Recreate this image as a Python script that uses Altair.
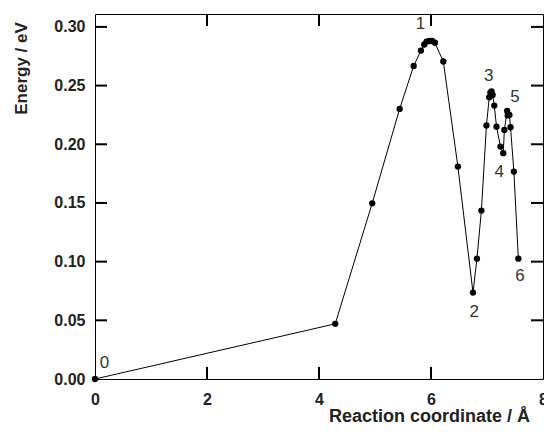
import altair as alt
import pandas as pd

# Reaction path data
coord = [0.0, 4.29, 4.95, 5.44, 5.69, 5.82, 5.88, 5.92, 5.97, 6.02, 6.07,
         6.22, 6.48, 6.75, 6.82, 6.90, 6.99, 7.04, 7.06, 7.08, 7.10, 7.13,
         7.17, 7.24, 7.29, 7.31, 7.36, 7.37, 7.40, 7.42, 7.48, 7.56]
energy = [0.0, 0.047, 0.1497, 0.2301, 0.2667, 0.2798, 0.285, 0.2875, 0.288,
          0.288, 0.2865, 0.2705, 0.181, 0.0736, 0.1025, 0.1435, 0.216, 0.240,
          0.244, 0.245, 0.242, 0.233, 0.215, 0.198, 0.1924, 0.2122, 0.2284,
          0.2246, 0.225, 0.2145, 0.1767, 0.1025]

# State labels
label_text = ["0", "1", "2", "3", "4", "5", "6"]
label_x = [0.17, 5.81, 6.77, 7.03, 7.22, 7.50, 7.59]
label_y = [0.0136, 0.3026, 0.0574, 0.258, 0.176, 0.2406, 0.0878]

x_ticks = [0, 2, 4, 6, 8]
y_ticks = [0.0, 0.05, 0.10, 0.15, 0.20, 0.25, 0.30]
x_inner_ticks = [2, 4, 6]
y_inner_ticks = [0.05, 0.10, 0.15, 0.20, 0.25, 0.30]

W, H = 448, 365
TL = 12
FONT = "Liberation Sans"

df = pd.DataFrame({"x": coord, "y": energy, "i": list(range(len(coord)))})
lab = pd.DataFrame({"t": label_text, "x": label_x, "y": label_y})
xt = pd.DataFrame({"x": x_inner_ticks})
yt = pd.DataFrame({"y": y_inner_ticks})

xscale = alt.Scale(domain=[0, 8], nice=False, zero=False)
yscale = alt.Scale(domain=[0, 0.311], nice=False, zero=False)

xaxis = alt.Axis(values=x_ticks, format="d", ticks=False, tickSize=0, grid=False,
                 domain=False, labelFont=FONT, labelFontSize=16, labelFontWeight="bold",
                 labelColor="#222", labelPadding=12, labelFlush=False,
                 title="Reaction coordinate / Å", titleFont=FONT, titleFontSize=18,
                 titleFontWeight="bold", titleColor="#222", titleX=334, titleY=37,
                 titleBaseline="middle", titleAlign="center")
yaxis = alt.Axis(values=y_ticks, format=".2f", ticks=False, tickSize=0, grid=False,
                 domain=False, labelFont=FONT, labelFontSize=16, labelFontWeight="bold",
                 labelColor="#222", labelPadding=10, labelFlush=False,
                 title="Energy / eV", titleFont=FONT, titleFontSize=17,
                 titleFontWeight="bold", titleColor="#222", titleX=-74, titleY=54,
                 titleAngle=270, titleBaseline="middle", titleAlign="center")

line = alt.Chart(df).mark_line(color="black", strokeWidth=1).encode(
    x=alt.X("x:Q", scale=xscale, axis=xaxis),
    y=alt.Y("y:Q", scale=yscale, axis=yaxis),
    order="i:Q",
)
pts = alt.Chart(df).mark_circle(color="black", opacity=1, size=40).encode(
    x=alt.X("x:Q", scale=xscale),
    y=alt.Y("y:Q", scale=yscale),
)
texts = alt.Chart(lab).mark_text(font=FONT, fontSize=17, color="#333",
                                 baseline="middle", align="center").encode(
    x=alt.X("x:Q", scale=xscale),
    y=alt.Y("y:Q", scale=yscale),
    text="t:N",
)

# inward tick marks on all four sides of the frame
bottom_t = alt.Chart(xt).mark_rule(color="black", strokeWidth=2).encode(
    x=alt.X("x:Q", scale=xscale),
    y=alt.value(H), y2=alt.value(H - TL))
top_t = alt.Chart(xt).mark_rule(color="black", strokeWidth=2).encode(
    x=alt.X("x:Q", scale=xscale),
    y=alt.value(0), y2=alt.value(TL))
left_t = alt.Chart(yt).mark_rule(color="black", strokeWidth=2).encode(
    y=alt.Y("y:Q", scale=yscale),
    x=alt.value(0), x2=alt.value(TL))
right_t = alt.Chart(yt).mark_rule(color="black", strokeWidth=2).encode(
    y=alt.Y("y:Q", scale=yscale),
    x=alt.value(W), x2=alt.value(W - TL))

chart = alt.layer(line, pts, texts, bottom_t, top_t, left_t, right_t).properties(
    width=W, height=H,
    autosize=alt.AutoSizeParams(type="none"),
    padding={"left": 87, "top": 6, "right": 1, "bottom": 46},
    background="white",
).configure_view(stroke="black", strokeWidth=1)

chart.save("out.html", embed_options={"renderer": "svg", "actions": False})
